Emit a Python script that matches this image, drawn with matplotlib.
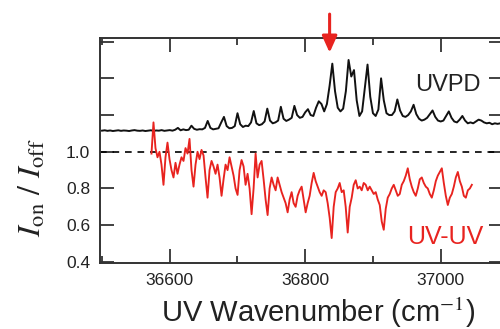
import numpy as np
import matplotlib
matplotlib.use("Agg")
import matplotlib.pyplot as plt
from matplotlib.ticker import FixedLocator

plt.rcParams["font.family"] = ["Liberation Sans", "DejaVu Sans"]
plt.rcParams["mathtext.fontset"] = "stix"

# UVPD trace, sampled every 4 cm-1 from 36500
uvpd_start = 36500
uvpd_step = 4
uvpd = [
    1.115, 1.117, 1.114, 1.116, 1.113, 1.115, 1.117, 1.114, 1.116, 1.115,  # 36500
    1.113, 1.116, 1.118, 1.115, 1.114, 1.116, 1.113, 1.115, 1.117, 1.114,  # 36540
    1.116, 1.115, 1.118, 1.114, 1.116, 1.118, 1.115, 1.120, 1.130, 1.117,  # 36580
    1.122, 1.118, 1.120, 1.142, 1.125, 1.120, 1.123, 1.122, 1.130, 1.168,  # 36620
    1.130, 1.122, 1.125, 1.128, 1.160, 1.190, 1.140, 1.128, 1.130, 1.140,  # 36660
    1.210, 1.150, 1.135, 1.142, 1.140, 1.160, 1.222, 1.155, 1.145, 1.150,  # 36700
    1.165, 1.235, 1.170, 1.155, 1.160, 1.170, 1.245, 1.180, 1.168, 1.175,  # 36740
    1.185, 1.250, 1.200, 1.185, 1.190, 1.215, 1.232, 1.200, 1.195, 1.240,  # 36780
    1.275, 1.260, 1.220, 1.260, 1.360, 1.480, 1.330, 1.240, 1.220, 1.235,  # 36820
    1.330, 1.500, 1.410, 1.445, 1.280, 1.195, 1.220, 1.350, 1.475, 1.300,  # 36860
    1.210, 1.195, 1.230, 1.400, 1.280, 1.210, 1.200, 1.200, 1.220, 1.285,  # 36900
    1.225, 1.195, 1.190, 1.200, 1.220, 1.256, 1.205, 1.180, 1.170, 1.175,  # 36940
    1.185, 1.205, 1.225, 1.190, 1.170, 1.165, 1.170, 1.195, 1.220, 1.185,  # 36980
    1.165, 1.160, 1.175, 1.195, 1.170, 1.155, 1.160, 1.155, 1.165, 1.175,  # 37020
    1.170, 1.160, 1.155, 1.158, 1.150, 1.155, 1.152, 1.155,                # 37060
]

# UV-UV hole-burning trace, 36573 -> 37046 cm-1
uvuv_first = 36573
uvuv_last = 37046
uvuv = [
    0.99, 1.16, 1.02, 0.97, 1.00, 0.93, 0.82, 0.97, 1.05, 0.96,
    0.90, 0.86, 0.94, 0.88, 0.93, 0.97, 0.95, 1.02, 0.99, 1.07,
    0.90, 0.81, 0.93, 1.00, 0.96, 1.01, 0.98, 0.86, 0.75, 0.90,
    0.95, 0.92, 0.88, 0.93, 0.86, 0.76, 0.85, 0.93, 0.90, 0.97,
    0.92, 0.87, 0.80, 0.765, 0.90, 0.955, 0.92, 0.82, 0.88, 0.80,
    0.66, 0.80, 0.99, 0.86, 0.93, 0.95, 0.85, 0.74, 0.655, 0.80,
    0.86, 0.82, 0.79, 0.86, 0.82, 0.78, 0.75, 0.72, 0.67, 0.74,
    0.78, 0.72, 0.70, 0.76, 0.79, 0.81, 0.74, 0.67, 0.72, 0.76,
    0.83, 0.885, 0.84, 0.81, 0.78, 0.76, 0.79, 0.78, 0.72, 0.64,
    0.53, 0.70, 0.78, 0.80, 0.83, 0.78, 0.79, 0.70, 0.56, 0.70,
    0.75, 0.82, 0.845, 0.80, 0.81, 0.79, 0.83, 0.82, 0.79, 0.81,
    0.79, 0.77, 0.78, 0.74, 0.71, 0.62, 0.575, 0.69, 0.75, 0.77,
    0.80, 0.82, 0.79, 0.76, 0.77, 0.82, 0.84, 0.87, 0.91, 0.85,
    0.81, 0.78, 0.76, 0.80, 0.85, 0.86, 0.83, 0.81, 0.80, 0.77,
    0.75, 0.79, 0.84, 0.87, 0.89, 0.91, 0.83, 0.76, 0.71, 0.75,
    0.77, 0.81, 0.86, 0.89, 0.84, 0.81, 0.76, 0.75, 0.79, 0.80,
    0.82,
]

x_major = [36600, 36800, 37000]
x_minor = [36500, 36700, 36900]
y_ticks = [0.4, 0.6, 0.8, 1.0, 1.2, 1.4, 1.6]
y_labels = ["0.4", "0.6", "0.8", "1.0", "", "", ""]
arrow_x = 36836

uvpd_x = uvpd_start + uvpd_step * np.arange(len(uvpd))
uvuv_x = np.linspace(uvuv_first, uvuv_last, len(uvuv))

fig = plt.figure(figsize=(5, 3.29), dpi=100)
ax = fig.add_axes([0.2, 0.2006, 0.806, 0.684])

ax.axhline(1.0, color="black", lw=1.2, ls=(0, (4, 3.5)))
ax.plot(uvpd_x, uvpd, color="#111111", lw=1.4)
ax.plot(uvuv_x, uvuv, color="#e8231f", lw=1.35)

ax.set_xlim(36497, 37092)
ax.set_ylim(0.394, 1.62)

ax.xaxis.set_major_locator(FixedLocator(x_major))
ax.xaxis.set_minor_locator(FixedLocator(x_minor))
ax.set_xticklabels([str(v) for v in x_major])
ax.set_yticks(y_ticks)
ax.set_yticklabels(y_labels)

ax.tick_params(which="both", direction="in", top=True, right=True,
               color="#333333", width=1.3, labelsize=12.5, labelcolor="#222222")
ax.tick_params(which="major", length=10, pad=7)
ax.tick_params(which="minor", length=5)
for s in ax.spines.values():
    s.set_linewidth(1.4)
    s.set_color("#333333")

ax.text(36962, 1.365, "UVPD", fontsize=17, color="#222222", ha="left", va="center")
ax.text(36950, 0.535, "UV-UV", fontsize=18, color="#e8231f", ha="left", va="center")

ax.annotate("", xy=(arrow_x, 1.54), xytext=(arrow_x, 1.75),
            annotation_clip=False,
            arrowprops=dict(arrowstyle="-|>,head_width=0.45,head_length=1.0",
                            color="#e8231f", lw=2.2, shrinkA=0, shrinkB=0))

fig.text(0.636, 0.02, "UV Wavenumber (cm$^{-1}$)", fontsize=21,
         color="#222222", ha="center", va="baseline")
fig.text(0.066, 0.43, r"$I_{\mathrm{on}}\ /\ I_{\mathrm{off}}$", fontsize=23,
         color="#222222", rotation=90, ha="center", va="center")

fig.savefig("out.png", dpi=100)
